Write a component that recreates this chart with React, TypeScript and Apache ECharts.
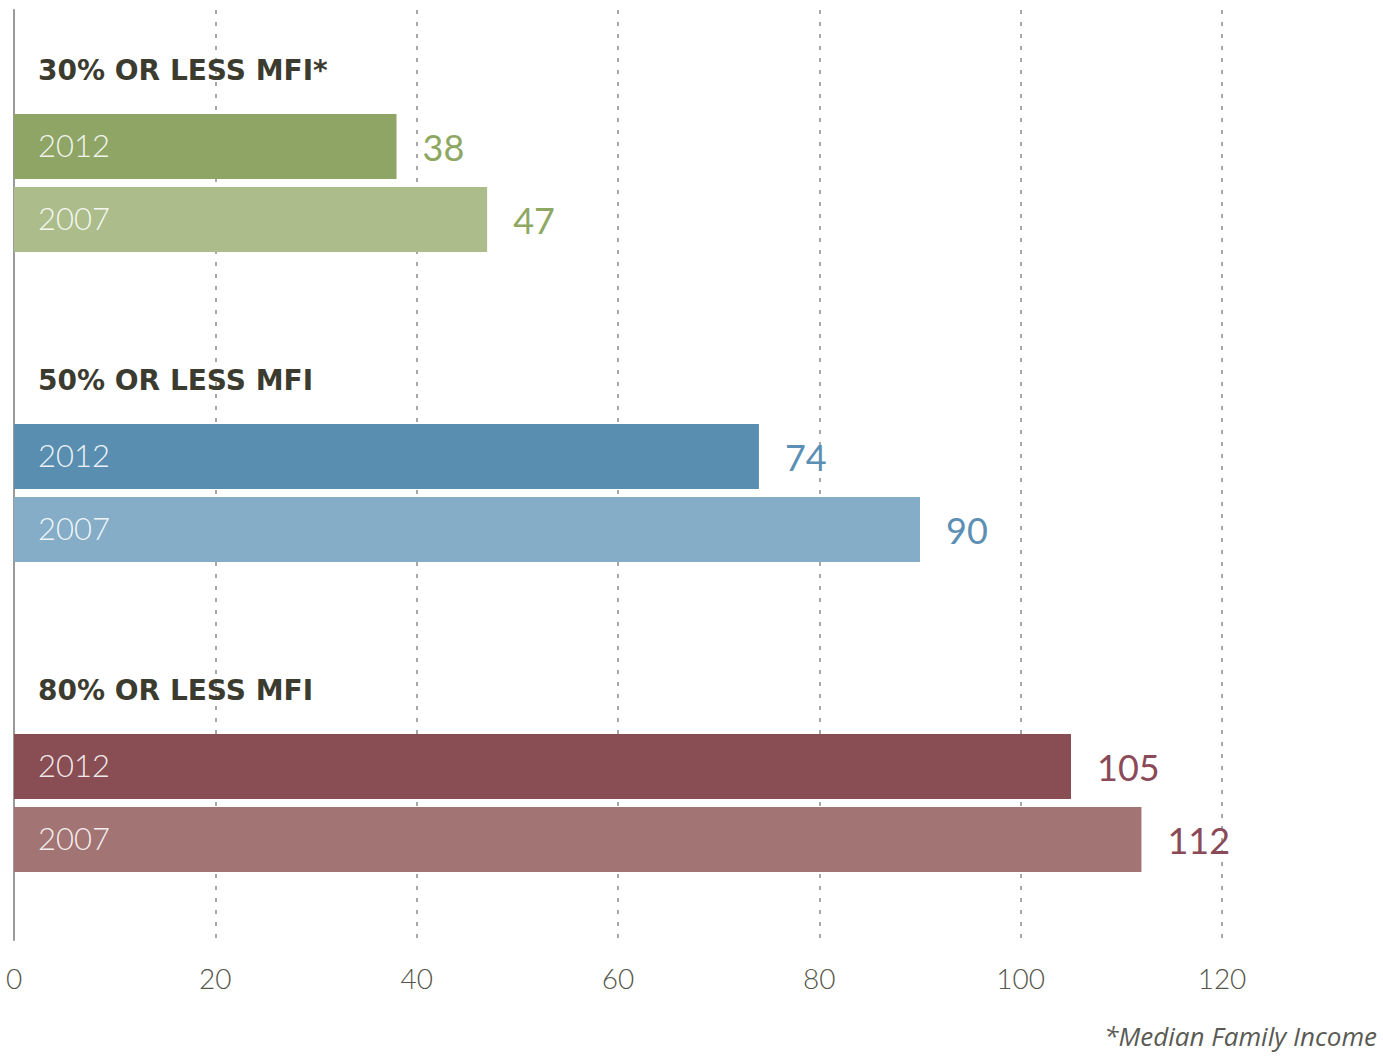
import React, { useEffect, useRef } from 'react';
import * as echarts from 'echarts';

const groups = ['30% OR LESS MFI*', '50% OR LESS MFI', '80% OR LESS MFI'];
const years = ['2012', '2007'];
const values2012 = [38, 74, 105];
const values2007 = [47, 90, 112];
const headerBase = [0, 0, 0];
const xMin = 0;
const xMax = 120;
const xStep = 20;
const colors2012 = ['#8fa566', '#5a8eb1', '#884e53'];
const colors2007 = ['#acbd8b', '#85adc7', '#a37474'];
const valueLabelColors = ['#8ea863', '#5b8fb4', '#8a4a57'];
const footnote = '*Median Family Income';

const BAR_W = 65;
const HEADER_W = 32;
const BAR_GAP = ((8 / 65) * 100).toFixed(2) + '%';

export default function App() {
  const ref = useRef<HTMLDivElement>(null);

  useEffect(() => {
    if (!ref.current) return;
    const chart = echarts.init(ref.current, null, { renderer: 'svg' });

    const barItems = (vals: number[], cols: string[]) =>
      vals.map((v, i) => ({ value: v, itemStyle: { color: cols[i] } }));
    const overlayItems = (vals: number[]) =>
      vals.map((v, i) => ({
        value: v,
        itemStyle: { color: 'transparent' },
        label: { color: valueLabelColors[i] },
      }));

    const nameLabel = {
      show: true,
      position: 'insideLeft',
      distance: 24,
      offset: [0, -1],
      formatter: '{a}',
      color: 'rgba(255,255,255,0.9)',
      fontFamily: 'Lato',
      fontWeight: 300,
      fontSize: 31,
    };
    const valueLabel = {
      show: true,
      position: 'right',
      distance: 26,
      offset: [0, 1],
      fontFamily: 'Lato',
      fontWeight: 400,
      fontSize: 36,
    };

    chart.setOption({
      animation: false,
      grid: { left: 14, top: 10, width: 1208, height: 930, containLabel: false },
      xAxis: {
        type: 'value',
        min: xMin,
        max: xMax,
        interval: xStep,
        axisLine: { show: false },
        axisTick: { show: false },
        axisLabel: {
          margin: 24,
          color: '#55564a',
          fontFamily: 'Lato',
          fontWeight: 300,
          fontSize: 28,
        },
        splitLine: {
          show: true,
          lineStyle: { type: [4, 8], width: 2, color: '#a8a8a8' },
        },
      },
      yAxis: [
        {
          type: 'category',
          data: groups,
          inverse: true,
          axisLine: { show: true, lineStyle: { color: '#9a9a9a', width: 2 } },
          axisTick: { show: false },
          axisLabel: { show: false },
          splitLine: { show: false },
        },
        {
          type: 'category',
          data: groups,
          inverse: true,
          show: false,
        },
      ],
      series: [
        {
          type: 'bar',
          name: 'header',
          yAxisIndex: 0,
          data: headerBase,
          barWidth: HEADER_W,
          barGap: BAR_GAP,
          itemStyle: { color: 'transparent' },
          silent: true,
          label: {
            show: true,
            position: [24, -8],
            align: 'left',
            verticalAlign: 'middle',
            formatter: (p: any) => groups[p.dataIndex],
            fontFamily: "'DejaVu Sans', Verdana, sans-serif",
            fontWeight: 'bold',
            fontSize: 28,
            color: '#3b3b30',
          },
        },
        {
          type: 'bar',
          name: years[0],
          yAxisIndex: 0,
          data: barItems(values2012, colors2012),
          barWidth: BAR_W,
          barGap: BAR_GAP,
          label: nameLabel,
        },
        {
          type: 'bar',
          name: years[1],
          yAxisIndex: 0,
          data: barItems(values2007, colors2007),
          barWidth: BAR_W,
          barGap: BAR_GAP,
          label: nameLabel,
        },
        {
          type: 'bar',
          name: 'header-overlay',
          yAxisIndex: 1,
          data: headerBase,
          barWidth: HEADER_W,
          barGap: BAR_GAP,
          itemStyle: { color: 'transparent' },
          silent: true,
        },
        {
          type: 'bar',
          name: years[0] + ' value',
          yAxisIndex: 1,
          data: overlayItems(values2012),
          barWidth: BAR_W,
          barGap: BAR_GAP,
          silent: true,
          label: valueLabel,
        },
        {
          type: 'bar',
          name: years[1] + ' value',
          yAxisIndex: 1,
          data: overlayItems(values2007),
          barWidth: BAR_W,
          barGap: BAR_GAP,
          silent: true,
          label: valueLabel,
        },
      ],
      graphic: [
        {
          type: 'text',
          right: 6,
          bottom: 7,
          style: {
            text: footnote,
            fill: '#5a5a55',
            fontFamily: "'Open Sans'",
            fontStyle: 'italic',
            fontWeight: 400,
            fontSize: 26,
          },
        },
      ],
    });

    return () => chart.dispose();
  }, []);

  return (
    <div
      ref={ref}
      style={{ position: 'absolute', left: 0, top: 0, width: 1383, height: 1056, background: '#fff' }}
    />
  );
}
